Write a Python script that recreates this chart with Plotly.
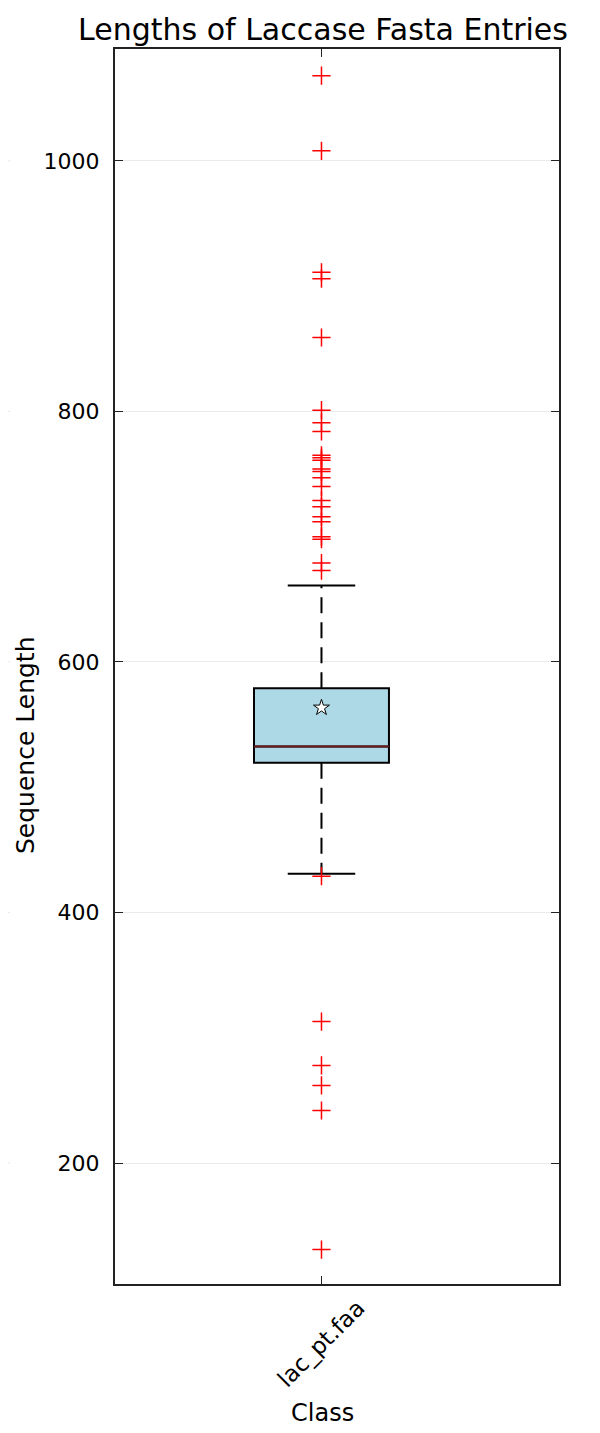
import plotly.graph_objects as go

# ---- data ----
category = ["lac_pt.faa"]
cat_pos = [0]
q1 = [519.6]
median = [532.6]
q3 = [579.1]
mean = [563.5]
lower_whisker = [431]
upper_whisker = [661]
outliers_high = [1068, 1008, 911, 906, 859, 801, 791, 784, 765, 763, 761, 754,
                 752, 747, 740, 729, 724, 716, 712, 700, 698, 679, 673]
outliers_low = [429, 313, 278, 262, 242, 131]
y_ticks = [200, 400, 600, 800, 1000]

# ---- style ----
BOX_HALF = 0.5
CAP_HALF = 0.25
FONT = "DejaVu Sans"
X_RANGE = [-1.53, 1.76]
Y_RANGE = [103.5, 1089.3]
OFF = 8  # page body margin offset
L, T = 115 - OFF, 49 - OFF
PW, PH = 444, 1235

fig = go.Figure()

# box body (whiskers drawn separately)
fig.add_trace(go.Box(
    x=cat_pos, q1=q1, median=median, q3=q3,
    lowerfence=q1, upperfence=q3,
    width=2 * BOX_HALF, fillcolor="#add8e6",
    line=dict(color="black", width=2),
    whiskerwidth=0, boxpoints=False, showlegend=False, hoverinfo="skip",
))

p = cat_pos[0]
# median line
fig.add_trace(go.Scatter(
    x=[p - BOX_HALF, p + BOX_HALF], y=[median[0], median[0]], mode="lines",
    line=dict(color="#6a1a1a", width=2), showlegend=False, hoverinfo="skip"))

# whiskers (dashed)
for a, b in [(q3[0], upper_whisker[0]), (q1[0], lower_whisker[0])]:
    fig.add_trace(go.Scatter(
        x=[p, p], y=[a, b], mode="lines",
        line=dict(color="black", width=2, dash="16px,9px"),
        showlegend=False, hoverinfo="skip"))

# caps
for v in [upper_whisker[0], lower_whisker[0]]:
    fig.add_trace(go.Scatter(
        x=[p - CAP_HALF, p + CAP_HALF], y=[v, v], mode="lines",
        line=dict(color="black", width=2), showlegend=False, hoverinfo="skip"))

# outliers
fl = outliers_high + outliers_low
fig.add_trace(go.Scatter(
    x=[p] * len(fl), y=fl, mode="markers",
    marker=dict(symbol="cross-thin", size=13, line=dict(color="#ff0000", width=1.5)),
    showlegend=False, hoverinfo="skip"))

# mean
fig.add_trace(go.Scatter(
    x=cat_pos, y=mean, mode="markers",
    marker=dict(symbol="star", size=12, color="white", line=dict(color="black", width=1)),
    showlegend=False, hoverinfo="skip"))

# faint grid stubs at far left (as in reference)
for t in y_ticks:
    fig.add_shape(type="line", xref="paper", yref="y",
                  x0=-L / PW, x1=(2 - L) / PW, y0=t, y1=t,
                  line=dict(color="#e8e8e8", width=1))

fig.update_layout(
    width=600, height=1433,
    margin=dict(l=L, r=600 - (559 - OFF), t=T, b=1433 - (1284 - OFF)),
    paper_bgcolor="white", plot_bgcolor="white",
    font=dict(family=FONT, color="black", size=22),
    title=dict(text="Lengths of Laccase Fasta Entries", x=(323 - OFF) / 600, xanchor="center",
               y=1 - (29 - OFF) / 1433, yanchor="middle", xref="container", yref="container",
               font=dict(size=30, family=FONT, color="black")),
    annotations=[
        dict(text="Sequence Length", xref="paper", yref="paper",
             x=(25 - 115) / PW, y=1 - (745 - 49) / PH, textangle=-90,
             showarrow=False, font=dict(size=25, family=FONT, color="black"),
             xanchor="center", yanchor="middle"),
        dict(text="Class", xref="paper", yref="paper",
             x=(322 - 115) / PW, y=1 - (1413 - 49) / PH,
             showarrow=False, font=dict(size=24, family=FONT, color="black"),
             xanchor="center", yanchor="middle"),
        dict(text=category[0], xref="x", yref="paper",
             x=p, y=1 - (1343 - 49) / PH, textangle=-45,
             showarrow=False, font=dict(size=23, family=FONT, color="black"),
             xanchor="center", yanchor="middle"),
    ],
)

fig.update_xaxes(
    range=X_RANGE, tickvals=cat_pos, ticktext=[""], showgrid=False, zeroline=False,
    showline=True, linecolor="#222", linewidth=2, mirror="allticks",
    ticks="inside", ticklen=8, tickwidth=1, tickcolor="#222",
)
fig.update_yaxes(
    range=Y_RANGE, tickvals=y_ticks, showgrid=True, gridcolor="#ebebeb", gridwidth=1,
    zeroline=False, showline=True, linecolor="#222", linewidth=2, mirror="allticks",
    ticks="inside", ticklen=8, tickwidth=1, tickcolor="#222",
    ticklabelstandoff=9, tickfont=dict(size=22, family=FONT, color="black"),
)

fig.write_html("out.html")
